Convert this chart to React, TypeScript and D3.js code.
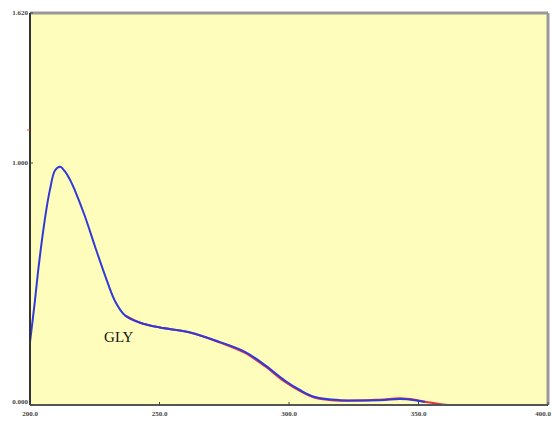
import React from "react";
import * as d3 from "d3";

// wavelength (x) and absorbance readings
const waveBlue = [200, 201.9, 203.2, 204.6, 206.2, 207.7, 209.7, 211.6, 213.5, 215.5, 217.4, 221.2, 225.1, 229, 232.8, 236.7, 242.5, 250.2, 261.8, 273.4, 283, 290.7, 298.5, 304.2, 310, 319.7, 335.1, 342.9, 348.6, 352.5];
const absBlue = [0.26, 0.43, 0.56, 0.68, 0.8, 0.89, 0.97, 0.985, 0.965, 0.93, 0.885, 0.78, 0.655, 0.535, 0.43, 0.37, 0.34, 0.32, 0.3, 0.26, 0.22, 0.165, 0.1, 0.062, 0.033, 0.02, 0.02, 0.025, 0.02, 0.012];
const waveRed = [236.7, 242.5, 250.2, 261.8, 273.4, 283, 290.7, 298.5, 304.2, 310, 319.7, 335.1, 342.9, 348.6, 354.4, 358, 361.4];
const absRed = [0.37, 0.34, 0.32, 0.3, 0.258, 0.215, 0.16, 0.095, 0.058, 0.03, 0.018, 0.022, 0.028, 0.022, 0.01, 0.004, 0.0];

const xTicks = [200, 250, 300, 350, 400];
const yTicks = [0, 1, 1.62];
const seriesLabel = "GLY";

export default function App() {
  const W = 552, H = 421;
  const m = { left: 30, right: 4, top: 13, bottom: 16 };
  const x = d3.scaleLinear().domain([200, 400]).range([m.left, W - m.right]);
  const y = d3.scaleLinear().domain([0, 1.62]).range([H - m.bottom, m.top]);

  const line = d3.line<[number, number]>()
    .x(d => x(d[0]))
    .y(d => y(d[1]))
    .curve(d3.curveCatmullRom);

  const blue = waveBlue.map((w, i) => [w, absBlue[i]] as [number, number]);
  const red = waveRed.map((w, i) => [w, absRed[i]] as [number, number]);

  const x0 = m.left, x1 = W - m.right, y0 = H - m.bottom, y1 = m.top;

  return (
    <svg width={W} height={H} style={{ position: "absolute", left: 0, top: 0, background: "#fff" }}>
      <rect x={x0} y={y1} width={x1 - x0} height={y0 - y1} fill="#fffdbc" />

      <path d={line(red) || ""} fill="none" stroke="#e0304a" strokeWidth={2} />
      <path d={line(blue) || ""} fill="none" stroke="#2f3ad8" strokeWidth={2} />

      <text x={x(228.6)} y={y(0.26)} fontFamily="Liberation Serif, serif" fontSize={15} fill="#111">{seriesLabel}</text>

      {/* frame */}
      <line x1={x0} x2={x1} y1={y1} y2={y1} stroke="#999" strokeWidth={3} />
      <line x1={x1} x2={x1} y1={y1} y2={y0} stroke="#999" strokeWidth={3} />
      <line x1={x0} x2={x1} y1={y0} y2={y0} stroke="#555" strokeWidth={2} />
      <line x1={x0} x2={x0} y1={y1} y2={y0} stroke="#333" strokeWidth={2} />
      <line x1={x0 - 3} x2={x0} y1={130} y2={130} stroke="#e04040" strokeWidth={1} />

      {xTicks.map((t, i) => (
        <g key={t}>
          <line x1={x(t)} x2={x(t)} y1={y0} y2={y0 - 3} stroke="#444" />
          <text x={i === xTicks.length - 1 ? W - 1 : x(t)} y={y0 + 11}
            textAnchor={i === xTicks.length - 1 ? "end" : "middle"}
            fontFamily="Liberation Serif, serif" fontWeight="bold" fontSize={7} fill="#444">
            {t.toFixed(1)}
          </text>
        </g>
      ))}
      {yTicks.map(t => (
        <g key={t}>
          <line x1={x0} x2={x0 + 3} y1={y(t)} y2={y(t)} stroke="#444" />
          <text x={x0 - 2} y={y(t) + (t === 0 ? -1 : 2)} textAnchor="end" fontFamily="Liberation Serif, serif" fontWeight="bold" fontSize={7} fill="#444">
            {t.toFixed(3)}
          </text>
        </g>
      ))}
    </svg>
  );
}
